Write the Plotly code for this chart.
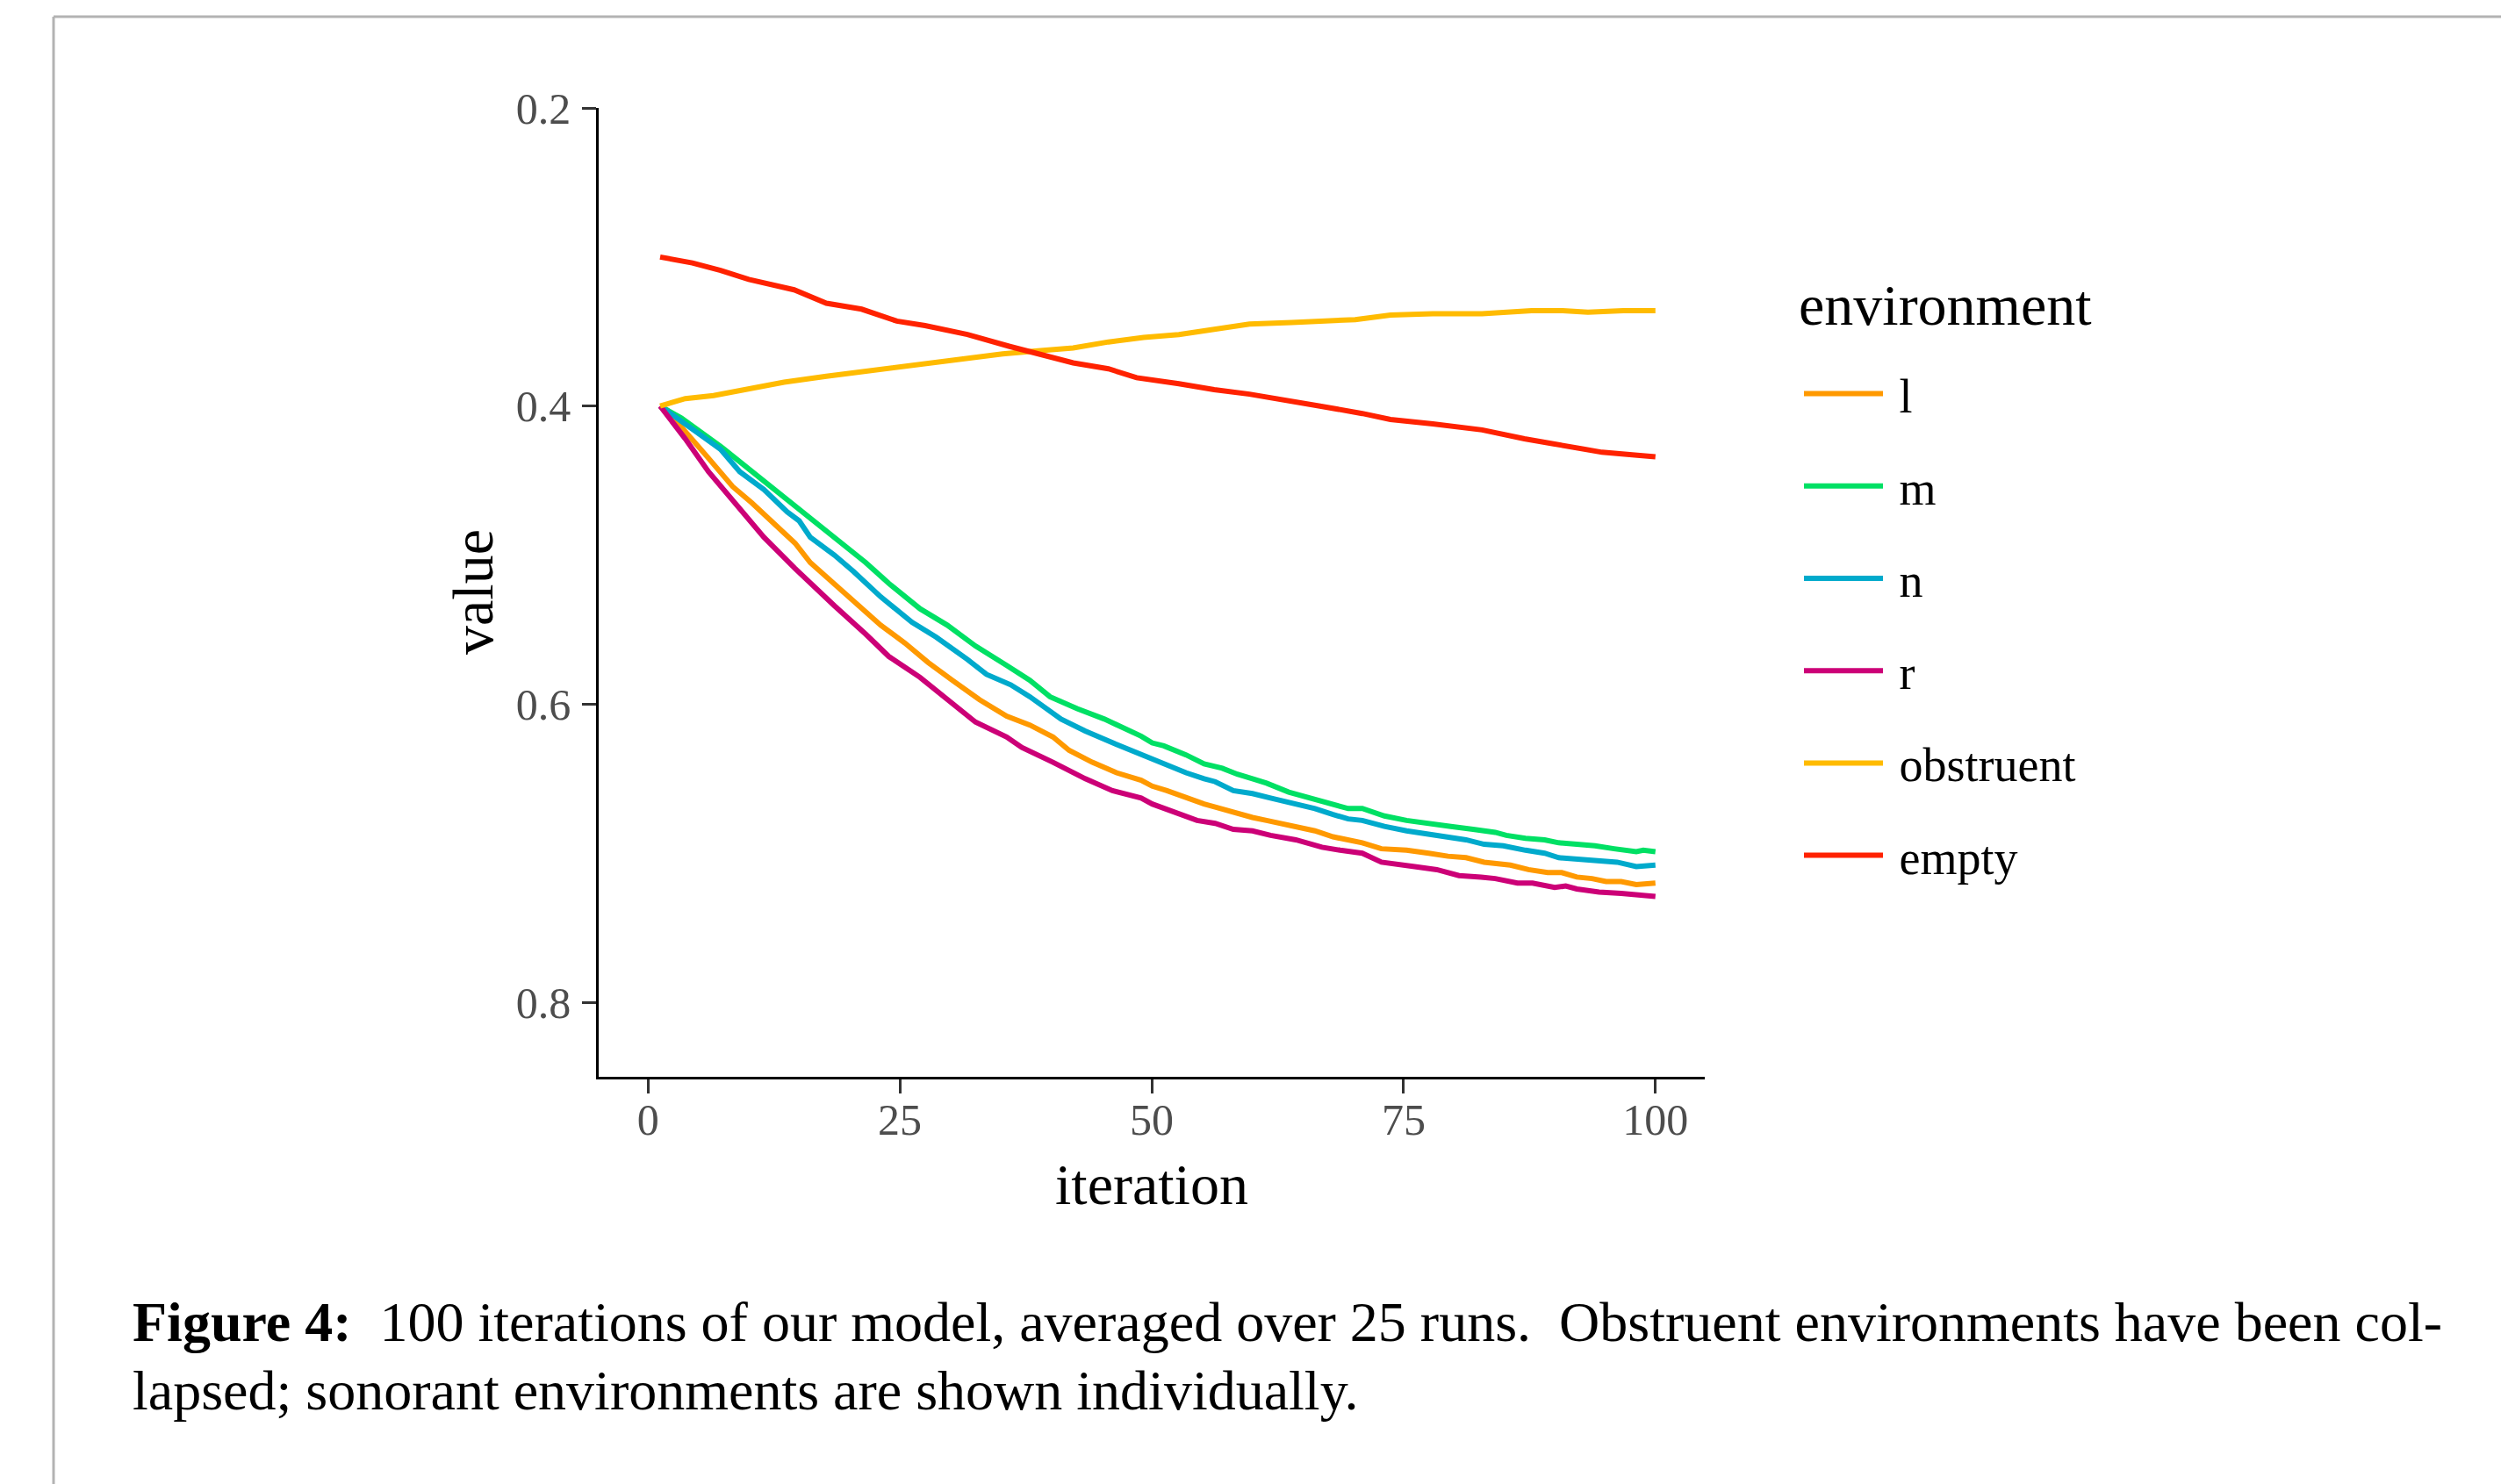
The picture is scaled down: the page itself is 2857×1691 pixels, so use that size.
import plotly.graph_objects as go

FONT = "Liberation Serif"

# ---- data ----
series_names = ["l", "m", "n", "r", "obstruent", "empty"]
series_colors = ["#FF9900", "#00E064", "#00AACC", "#CC0077", "#FFBB00", "#FF2200"]

iter_l = [1.2, 3.3, 6.0, 8.4, 10.3, 12.2, 14.6, 16.1, 18.1, 20.8, 23.1, 25.5, 27.8, 30.2, 32.9,
          35.6, 37.9, 40.2, 41.8, 44.1, 46.5, 48.95, 50.05, 51.5, 53.4, 55.2, 56.3, 57.8, 60.0,
          61.4, 63.6, 66.2, 68.0, 69.5, 70.9, 72.8, 75.3, 77.5, 79.4, 81.2, 83.0, 85.6, 87.4,
          89.3, 90.7, 92.2, 93.7, 95.1, 96.6, 98.1, 100]
val_l = [0.400, 0.414, 0.435, 0.454, 0.465, 0.477, 0.492, 0.505, 0.517, 0.534, 0.547, 0.559,
         0.572, 0.584, 0.597, 0.608, 0.614, 0.622, 0.631, 0.639, 0.646, 0.651, 0.655, 0.658,
         0.663, 0.667, 0.669, 0.672, 0.676, 0.678, 0.681, 0.685, 0.689, 0.691, 0.693, 0.697,
         0.698, 0.700, 0.702, 0.703, 0.706, 0.708, 0.711, 0.713, 0.713, 0.716, 0.717, 0.719,
         0.719, 0.721, 0.720]

iter_m = [1.2, 3.3, 7.2, 10.3, 13.4, 16.1, 19.2, 21.6, 23.9, 27.0, 29.7, 32.5, 35.6, 37.9, 39.9,
          42.6, 45.3, 47.2, 48.95, 50.05, 51.2, 53.4, 55.2, 57.0, 58.5, 60.0, 61.4, 63.6, 65.1,
          67.3, 69.5, 70.9, 73.1, 75.3, 77.2, 79.7, 81.9, 84.1, 85.2, 87.1, 89.0, 90.4, 92.2,
          94.0, 95.9, 98.1, 98.8, 100]
val_m = [0.400, 0.408, 0.427, 0.444, 0.460, 0.475, 0.492, 0.505, 0.519, 0.536, 0.547, 0.561,
         0.574, 0.584, 0.595, 0.603, 0.610, 0.616, 0.6215, 0.626, 0.628, 0.634, 0.640, 0.643,
         0.647, 0.650, 0.653, 0.659, 0.662, 0.666, 0.670, 0.670, 0.675, 0.678, 0.680, 0.682,
         0.684, 0.686, 0.688, 0.690, 0.691, 0.693, 0.694, 0.695, 0.697, 0.699, 0.698, 0.699]

iter_n = [1.2, 4.5, 7.2, 9.1, 11.5, 13.8, 15.0, 16.1, 18.5, 20.4, 23.1, 26.2, 28.6, 31.7, 33.6,
          36.0, 37.9, 41.0, 43.4, 46.5, 48.95, 50.05, 51.5, 53.4, 55.2, 56.3, 58.1, 60.0, 61.8,
          64.3, 66.2, 68.0, 69.5, 70.9, 73.1, 75.3, 77.5, 79.0, 81.2, 83.0, 84.9, 87.1, 89.0,
          90.4, 92.2, 94.8, 96.2, 98.1, 100]
val_n = [0.400, 0.416, 0.429, 0.444, 0.456, 0.471, 0.477, 0.488, 0.500, 0.511, 0.528, 0.545,
         0.555, 0.570, 0.580, 0.587, 0.595, 0.610, 0.618, 0.627, 0.634, 0.637, 0.641, 0.646,
         0.650, 0.652, 0.658, 0.660, 0.663, 0.667, 0.670, 0.674, 0.677, 0.678, 0.682, 0.685,
         0.687, 0.689, 0.691, 0.694, 0.695, 0.698, 0.700, 0.703, 0.704, 0.706, 0.706, 0.709,
         0.708]

iter_r = [1.2, 3.7, 6.0, 8.8, 11.5, 14.6, 16.1, 18.5, 21.6, 23.9, 27.0, 29.7, 32.5, 35.6, 37.1,
          40.2, 43.4, 46.1, 48.95, 50.05, 51.2, 52.6, 54.5, 56.3, 58.1, 60.0, 61.8, 64.3, 66.9,
          68.7, 70.9, 72.8, 74.6, 76.1, 78.3, 80.5, 82.7, 84.1, 86.3, 87.8, 90.0, 91.1, 92.2,
          94.4, 96.6, 98.1, 100]
val_r = [0.400, 0.422, 0.444, 0.467, 0.488, 0.509, 0.519, 0.534, 0.553, 0.568, 0.582, 0.597,
         0.612, 0.622, 0.629, 0.639, 0.650, 0.658, 0.663, 0.667, 0.670, 0.673, 0.678, 0.680,
         0.684, 0.685, 0.688, 0.691, 0.696, 0.698, 0.700, 0.706, 0.708, 0.709, 0.711, 0.715,
         0.716, 0.717, 0.720, 0.720, 0.723, 0.722, 0.724, 0.726, 0.727, 0.728, 0.729]

iter_obstruent = [1.2, 3.7, 6.5, 10.7, 13.5, 17.7, 21.2, 24.7, 28.2, 31.7, 35.2, 38.7, 42.2,
                  45.7, 49.2, 52.7, 56.9, 59.7, 63.9, 66.7, 70.2, 73.7, 77.9, 82.8, 87.7, 90.8,
                  93.3, 96.8, 100]
val_obstruent = [0.400, 0.395, 0.393, 0.388, 0.384, 0.380, 0.377, 0.374, 0.371, 0.368, 0.365,
                 0.363, 0.361, 0.357, 0.354, 0.352, 0.348, 0.345, 0.344, 0.343, 0.342, 0.339,
                 0.338, 0.338, 0.336, 0.336, 0.337, 0.336, 0.336]

iter_empty = [1.2, 4.4, 7.2, 10.0, 14.5, 17.7, 21.2, 24.7, 27.5, 31.7, 35.9, 38.7, 42.2, 45.7,
              48.5, 52.7, 56.2, 59.7, 62.5, 66.7, 70.9, 73.7, 77.9, 82.8, 87.0, 91.2, 94.7,
              98.2, 100]
val_empty = [0.300, 0.304, 0.309, 0.315, 0.322, 0.331, 0.335, 0.343, 0.346, 0.352, 0.360, 0.365,
             0.371, 0.375, 0.381, 0.385, 0.389, 0.392, 0.395, 0.400, 0.405, 0.409, 0.412, 0.416,
             0.422, 0.427, 0.431, 0.433, 0.434]

series_x = [iter_l, iter_m, iter_n, iter_r, iter_obstruent, iter_empty]
series_y = [val_l, val_m, val_n, val_r, val_obstruent, val_empty]

x_ticks = [0, 25, 50, 75, 100]
y_ticks = [0.2, 0.4, 0.6, 0.8]
y_ticktext = ["0.2", "0.4", "0.6", "0.8"]

legend_title = "environment"
x_title = "iteration"
y_title = "value"
caption_line1 = "<b>Figure 4:</b>  100 iterations of our model, averaged over 25 runs.  Obstruent environments have been col-"
caption_line2 = "lapsed; sonorant environments are shown individually."

# ---- geometry: targets in screen pixels; page body adds an 8px offset ----
OFF = 8
W, H = 2857, 1691
L, R, T, B = 682 - OFF, 1942 - OFF, 123 - OFF, 1227 - OFF
pw, ph = R - L, B - T


def px(xs):
    return (xs - OFF - L) / pw


def py(ys):
    return (B - (ys - OFF)) / ph


fig = go.Figure()
for name, color, xs, ys in zip(series_names, series_colors, series_x, series_y):
    fig.add_trace(go.Scatter(
        x=xs, y=ys, mode="lines", name="\u00a0" + name, legendgroup=name,
        line=dict(color=color, width=6),
        hoverinfo="skip",
    ))

axis_common = dict(
    showgrid=False, zeroline=False, showline=True, linecolor="black", linewidth=2.6,
    ticks="outside", ticklen=16, tickwidth=2.6, tickcolor="#333333",
    tickfont=dict(family=FONT, size=50, color="#4D4D4D"),
)

fig.update_layout(
    width=W, height=H,
    margin=dict(l=L, r=W - R, t=T, b=H - B, pad=0),
    paper_bgcolor="white", plot_bgcolor="white",
    xaxis=dict(range=[-4.9, 104.9], tickvals=x_ticks, ticklabelstandoff=-13, **axis_common),
    yaxis=dict(range=[0.85, 0.2], tickvals=y_ticks, ticktext=y_ticktext,
               ticklabelstandoff=3, **axis_common),
    showlegend=True,
    legend=dict(
        x=px(2050), y=py(407), xanchor="left", yanchor="top",
        font=dict(family=FONT, size=54, color="black"),
        tracegroupgap=32, itemwidth=90,
        bgcolor="rgba(0,0,0,0)",
    ),
)

annotations = [
    dict(text=legend_title, x=px(2047), y=py(348), xref="paper", yref="paper",
         xanchor="left", yanchor="middle", showarrow=False,
         font=dict(family=FONT, size=66, color="black")),
    dict(text=x_title, x=0.5, y=py(1349), xref="paper", yref="paper",
         xanchor="center", yanchor="middle", showarrow=False,
         font=dict(family=FONT, size=66, color="black")),
    dict(text=y_title, x=px(538), y=0.5, xref="paper", yref="paper", textangle=-90,
         xanchor="center", yanchor="middle", showarrow=False,
         font=dict(family=FONT, size=66, color="black")),
    dict(text=caption_line1, x=px(149), y=py(1506), xref="paper", yref="paper",
         xanchor="left", yanchor="middle", showarrow=False,
         font=dict(family=FONT, size=64, color="black")),
    dict(text=caption_line2, x=px(149), y=py(1584), xref="paper", yref="paper",
         xanchor="left", yanchor="middle", showarrow=False,
         font=dict(family=FONT, size=64, color="black")),
]
fig.update_layout(annotations=annotations)

# page frame (grey border around the figure box)
fig.add_shape(type="line", xref="paper", yref="paper", x0=px(61), x1=px(W + 20),
              y0=py(19), y1=py(19), line=dict(color="#B3B3B3", width=3))
fig.add_shape(type="line", xref="paper", yref="paper", x0=px(61), x1=px(61),
              y0=py(19), y1=py(H + 20), line=dict(color="#B3B3B3", width=3))

fig.write_html("out.html", config={"displayModeBar": False})
